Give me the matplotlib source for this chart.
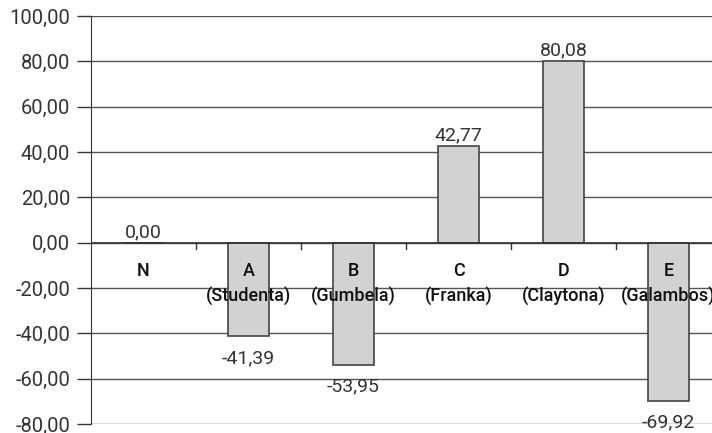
import matplotlib.pyplot as plt
import numpy as np

categories = ["N", "A\n(Studenta)", "B\n(Gumbela)", "C\n(Franka)", "D\n(Claytona)", "E\n(Galambos)"]
values = [0.00, -41.39, -53.95, 42.77, 80.08, -69.92]

plt.rcParams['font.family'] = ['Roboto', 'DejaVu Sans']

fig = plt.figure(figsize=(7.12, 4.33), dpi=100)
ax = fig.add_axes([91/712, (433-424)/433, 630/712, (424-16)/433])

x = np.arange(len(categories))
ax.bar(x, values, width=0.39, color='#d2d2d2', edgecolor='#444444', linewidth=1.2, zorder=3)

ax.set_xlim(-0.5, len(categories) - 0.5)
ax.set_ylim(-80, 100)
ax.set_yticks(np.arange(-80, 101, 20))
ax.set_yticklabels([f"{v:.2f}".replace('.', ',') for v in np.arange(-80, 101, 20)],
                   fontsize=14.5, color='#333333')
ax.yaxis.grid(True, color='#555555', linewidth=1)
ax.set_axisbelow(True)
ax.tick_params(axis='y', length=10, width=1, color='#333333', pad=5)
ax.set_xticks([])

for s in ['top', 'right', 'bottom']:
    ax.spines[s].set_visible(False)
ax.spines['left'].set_color('#333333')

# zero line with category ticks
ax.axhline(0, color='#333333', linewidth=1.2, zorder=4)
for b in np.arange(0.5, len(categories) - 0.5, 1):
    ax.plot([b, b], [0, -3], color='#333333', linewidth=1, zorder=4)

for i, c in enumerate(categories):
    ax.annotate(c, (i, 0), xytext=(0, -14), textcoords='offset points',
                ha='center', va='top', fontsize=13, fontweight='medium',
                color='#111111', linespacing=1.45, zorder=5, annotation_clip=False)

for i, v in enumerate(values):
    lbl = f"{v:.2f}".replace('.', ',')
    if v >= 0:
        ax.annotate(lbl, (i, v), xytext=(0, 1), textcoords='offset points',
                    ha='center', va='bottom', fontsize=14, color='#333333')
    else:
        ax.annotate(lbl, (i, v), xytext=(0, -9), textcoords='offset points',
                    ha='center', va='top', fontsize=14, color='#333333')

fig.savefig('out.png', dpi=100)
